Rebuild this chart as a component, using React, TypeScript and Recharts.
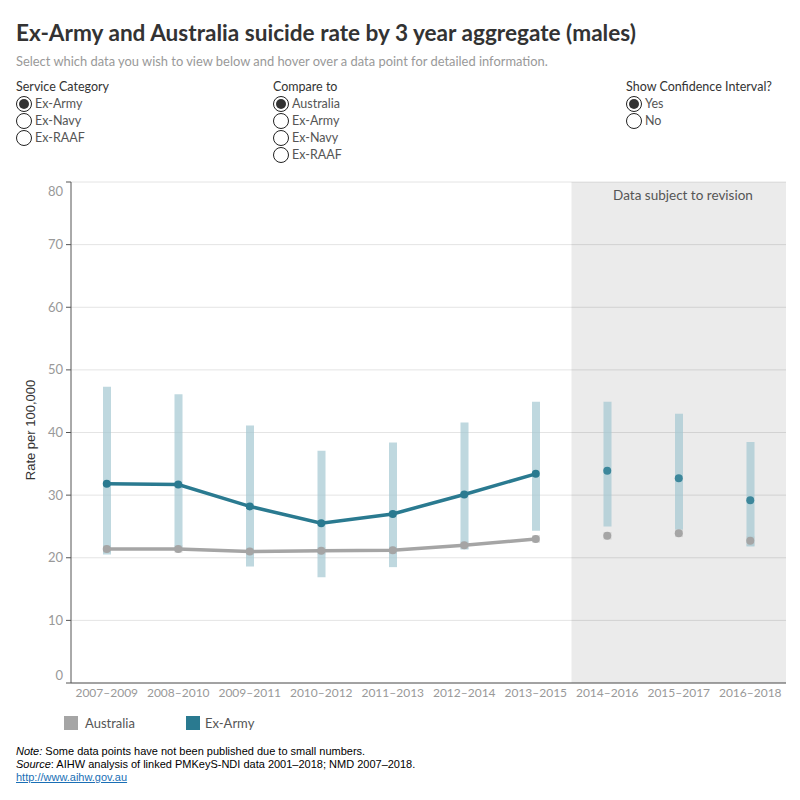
import React from 'react';
import { ComposedChart, Bar, Line, XAxis, YAxis, CartesianGrid, ReferenceArea } from 'recharts';

const categories = ['2007–2009', '2008–2010', '2009–2011', '2010–2012', '2011–2013', '2012–2014', '2013–2015', '2014–2016', '2015–2017', '2016–2018'];
const exArmy = [31.8, 31.7, 28.2, 25.5, 27.0, 30.1, 33.4, 33.9, 32.7, 29.2];
const australia = [21.4, 21.4, 21.0, 21.1, 21.2, 22.0, 23.0, 23.5, 23.9, 22.7];
const exArmyLow = [20.5, 21.3, 18.6, 16.9, 18.5, 21.3, 24.3, 25.0, 24.5, 21.8];
const exArmyHigh = [47.3, 46.1, 41.1, 37.1, 38.4, 41.6, 44.9, 44.9, 43.0, 38.5];
const australiaLow = [20.8, 20.8, 20.4, 20.5, 20.6, 21.4, 22.4, 22.9, 23.3, 21.9];
const australiaHigh = [22.0, 22.0, 21.6, 21.7, 21.8, 22.6, 23.6, 24.1, 24.5, 23.4];
const yTicks = [0, 10, 20, 30, 40, 50, 60, 70, 80];
const revisionFrom = 7; // first category index that is "subject to revision"

const data = categories.map((c, i) => ({
  cat: c,
  armyCI: [exArmyLow[i], exArmyHigh[i]],
  ausCI: [australiaLow[i], australiaHigh[i]],
  armyLine: i < revisionFrom ? exArmy[i] : null,
  ausLine: i < revisionFrom ? australia[i] : null,
  armyRev: i >= revisionFrom ? exArmy[i] : null,
  ausRev: i >= revisionFrom ? australia[i] : null,
}));

const FONT = 'Lato, "Noto Sans", sans-serif';
const ARMY = '#2a7a90';
const ARMY_REV = '#3d879b';
const AUS = '#a5a5a5';

const YTick = (props: any) => {
  const { x, y, payload } = props;
  const v = payload.value;
  const dy = v === 80 ? 9 : v === 0 ? -8 : 0;
  return (
    <text x={x} y={y + dy} dy="0.355em" textAnchor="end" fill="#999" fontSize={13} fontFamily={FONT}>
      {v}
    </text>
  );
};

const XTick = (props: any) => {
  const { x, payload } = props;
  return (
    <text x={x} y={697} textAnchor="middle" fill="#999" fontSize={12} fontFamily={FONT}>
      {payload.value}
    </text>
  );
};

const Radio = ({ checked, label, x, y }: { checked?: boolean; label: string; x: number; y: number }) => (
  <div style={{ position: 'absolute', left: x, top: y - 8, height: 16, display: 'flex', alignItems: 'center', fontFamily: FONT }}>
    <div
      style={{
        width: 16, height: 16, borderRadius: '50%', border: '1px solid #222', boxSizing: 'border-box',
        display: 'flex', alignItems: 'center', justifyContent: 'center', background: '#fff',
      }}
    >
      {checked && <div style={{ width: 10, height: 10, borderRadius: '50%', background: '#333' }} />}
    </div>
    <span style={{ marginLeft: 3, fontSize: 12.5, color: '#555', lineHeight: '16px' }}>{label}</span>
  </div>
);

const Heading = ({ text, x, y }: { text: string; x: number; y: number }) => (
  <div style={{ position: 'absolute', left: x, top: y - 9, fontSize: 12.5, lineHeight: '18px', color: '#333', fontFamily: FONT, whiteSpace: 'nowrap' }}>
    {text}
  </div>
);

export default function App() {
  return (
    <div style={{ position: 'absolute', left: 0, top: 0, width: 800, height: 800, background: '#fff', fontFamily: FONT }}>
      <div style={{ position: 'absolute', left: 16, top: 18, fontSize: 22.6, fontWeight: 700, color: '#333', whiteSpace: 'nowrap', lineHeight: '30px' }}>
        Ex-Army and Australia suicide rate by 3 year aggregate (males)
      </div>
      <div style={{ position: 'absolute', left: 16, top: 52, fontSize: 12.9, color: '#999', whiteSpace: 'nowrap', lineHeight: '18px' }}>
        Select which data you wish to view below and hover over a data point for detailed information.
      </div>

      <Heading text="Service Category" x={16} y={87} />
      <Radio checked label="Ex-Army" x={16} y={104} />
      <Radio label="Ex-Navy" x={16} y={121} />
      <Radio label="Ex-RAAF" x={16} y={138} />

      <Heading text="Compare to" x={273} y={87} />
      <Radio checked label="Australia" x={273} y={104} />
      <Radio label="Ex-Army" x={273} y={121} />
      <Radio label="Ex-Navy" x={273} y={138} />
      <Radio label="Ex-RAAF" x={273} y={155} />

      <Heading text="Show Confidence Interval?" x={626} y={87} />
      <Radio checked label="Yes" x={626} y={104} />
      <Radio label="No" x={626} y={121} />

      <div style={{ position: 'absolute', left: 0, top: 0 }}>
        <ComposedChart width={800} height={720} data={data} barGap={-8} margin={{ top: 182, right: 14, bottom: 7, left: 0 }}>
          <CartesianGrid vertical={false} stroke="#e4e4e4" />
          <XAxis
            dataKey="cat"
            interval={0}
            height={30}
            tickLine={false}
            axisLine={{ stroke: '#555' }}
            tick={<XTick />}
          />
          <YAxis
            width={71}
            domain={[0, 80]}
            ticks={yTicks}
            interval={0}
            tickSize={5}
            tickMargin={3}
            tickLine={{ stroke: '#555' }}
            axisLine={{ stroke: '#555' }}
            tick={<YTick />}
          />
          <ReferenceArea x1={categories[revisionFrom]} x2={categories[categories.length - 1]} fill="#000" fillOpacity={0.08} stroke="none" />
          <Bar dataKey="ausCI" barSize={8} fill="#bdbdbd" fillOpacity={0.45} isAnimationActive={false} />
          <Bar dataKey="armyCI" barSize={8} fill="#a4c7d1" fillOpacity={0.7} isAnimationActive={false} />
          <Line dataKey="ausLine" stroke={AUS} strokeWidth={3.5} dot={{ r: 4, fill: AUS, stroke: 'none' }} activeDot={false} isAnimationActive={false} />
          <Line dataKey="armyLine" stroke={ARMY} strokeWidth={3.5} dot={{ r: 4, fill: ARMY, stroke: 'none' }} activeDot={false} isAnimationActive={false} />
          <Line dataKey="ausRev" stroke="none" dot={{ r: 4, fill: AUS, stroke: 'none' }} activeDot={false} isAnimationActive={false} />
          <Line dataKey="armyRev" stroke="none" dot={{ r: 4, fill: ARMY_REV, stroke: 'none' }} activeDot={false} isAnimationActive={false} />
        </ComposedChart>
      </div>

      <div style={{ position: 'absolute', left: 575, width: 216, top: 186, textAlign: 'center', fontSize: 13.5, color: '#555', lineHeight: '18px' }}>
        Data subject to revision
      </div>

      <div
        style={{
          position: 'absolute', left: 30, top: 430, transform: 'translate(-50%, -50%) rotate(-90deg)',
          fontSize: 13, color: '#333', whiteSpace: 'nowrap', fontFamily: '"Liberation Sans", Arial, sans-serif',
        }}
      >
        Rate per 100,000
      </div>

      <div style={{ position: 'absolute', left: 64, top: 716, width: 14, height: 14, background: AUS }} />
      <div style={{ position: 'absolute', left: 85, top: 714, fontSize: 13, color: '#555', lineHeight: '18px' }}>Australia</div>
      <div style={{ position: 'absolute', left: 186, top: 716, width: 14, height: 14, background: ARMY }} />
      <div style={{ position: 'absolute', left: 205, top: 714, fontSize: 13, color: '#555', lineHeight: '18px' }}>Ex-Army</div>

      <div style={{ position: 'absolute', left: 16, top: 745, fontSize: 11, lineHeight: '13px', color: '#000', fontFamily: '"Liberation Sans", Arial, sans-serif', whiteSpace: 'nowrap' }}>
        <div><i>Note:</i> Some data points have not been published due to small numbers.</div>
        <div><i>Source</i>: AIHW analysis of linked PMKeyS-NDI data 2001–2018; NMD 2007–2018.</div>
        <div><a href="http://www.aihw.gov.au" style={{ color: '#1a6fb5', textDecoration: 'underline' }}>http://www.aihw.gov.au</a></div>
      </div>
    </div>
  );
}
